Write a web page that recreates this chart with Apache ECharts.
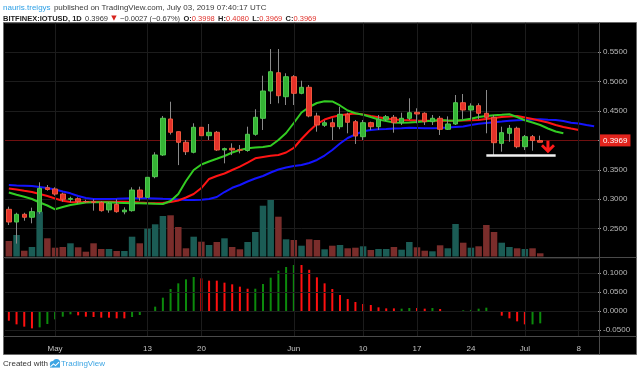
<!DOCTYPE html>
<html><head><meta charset="utf-8">
<script src="https://cdn.jsdelivr.net/npm/echarts@6/dist/echarts.min.js"></script>
<style>html,body{margin:0;padding:0;background:#fff}#c{width:640px;height:374px}</style>
</head><body><div id="c"></div><script>
// ---- categories (daily, 2019) ----
const categories = [
'04-25','04-26','04-27','04-28','04-29','04-30',
'05-01','05-02','05-03','05-04','05-05','05-06','05-07','05-08','05-09','05-10','05-11','05-12','05-13','05-14','05-15','05-16','05-17','05-18','05-19','05-20','05-21','05-22','05-23','05-24','05-25','05-26','05-27','05-28','05-29','05-30','05-31',
'06-01','06-02','06-03','06-04','06-05','06-06','06-07','06-08','06-09','06-10','06-11','06-12','06-13','06-14','06-15','06-16','06-17','06-18','06-19','06-20','06-21','06-22','06-23','06-24','06-25','06-26','06-27','06-28','06-29','06-30',
'07-01','07-02','07-03','07-04','07-05','07-06','07-07','07-08','07-09','07-10'];
const tickDates  = ['05-01','05-13','05-20','06-01','06-10','06-17','06-24','07-01','07-08'];
const tickLabels = ['May','13','20','Jun','10','17','24','Jul','8'];
const priceTicks = [0.25,0.30,0.35,0.40,0.45,0.50,0.55];
const oscTicks = [-0.05,0,0.05,0.1];

// ---- OHLC ----
const open  = [0.2828,0.2612,0.2743,0.2693,0.2788,0.3195,0.3173,0.3088,0.2998,0.3008,0.2960,0.2958,0.2945,0.2818,0.2913,0.2785,0.2805,0.3156,0.3032,0.3383,0.3752,0.4364,0.4148,0.3968,0.3798,0.4223,0.4080,0.4138,0.3837,0.3866,0.3840,0.3828,0.4104,0.4376,0.4840,0.5151,0.4743,0.5083,0.4801,0.4903,0.4415,0.4257,0.4300,0.4233,0.4444,0.4318,0.4063,0.4301,0.4233,0.4359,0.4393,0.4301,0.4376,0.4478,0.4461,0.4318,0.4376,0.4189,0.4279,0.4641,0.4517,0.4590,0.4461,0.4393,0.3950,0.4121,0.4206,0.3893,0.4063,0.3998];
const close = [0.2612,0.2743,0.2693,0.2788,0.3185,0.3165,0.3088,0.2998,0.3013,0.2958,0.2955,0.2945,0.2805,0.2930,0.2788,0.2815,0.3156,0.3032,0.3372,0.3752,0.4376,0.4138,0.3968,0.3808,0.4223,0.4080,0.4138,0.3837,0.3860,0.3837,0.3835,0.4104,0.4393,0.4840,0.5168,0.4760,0.5083,0.4801,0.4903,0.4415,0.4262,0.4300,0.4233,0.4444,0.4308,0.4075,0.4301,0.4233,0.4359,0.4403,0.4301,0.4376,0.4471,0.4449,0.4318,0.4376,0.4189,0.4279,0.4641,0.4517,0.4585,0.4461,0.4393,0.3961,0.4131,0.4206,0.3893,0.4063,0.3998,0.3969];
const low   = [0.2561,0.2245,0.2634,0.2590,0.2750,0.3145,0.3060,0.2958,0.2947,0.2930,0.2935,0.2805,0.2788,0.2770,0.2770,0.2743,0.2788,0.2975,0.2985,0.3356,0.3735,0.4100,0.3580,0.3752,0.3780,0.4036,0.4007,0.3820,0.3610,0.3750,0.3780,0.3808,0.4080,0.4177,0.4619,0.4631,0.4602,0.4602,0.4785,0.4393,0.4148,0.4230,0.4007,0.4190,0.4121,0.3939,0.4007,0.4176,0.4177,0.4330,0.4131,0.4262,0.4347,0.4291,0.4262,0.4262,0.4092,0.4177,0.4262,0.4359,0.4359,0.4359,0.4121,0.3747,0.3808,0.3978,0.3866,0.3837,0.3825,0.3969];
const high  = [0.2873,0.2770,0.2770,0.2856,0.3287,0.3241,0.3202,0.3110,0.3043,0.3032,0.2990,0.2998,0.2966,0.2952,0.2998,0.2861,0.3202,0.3213,0.3525,0.3798,0.4415,0.4658,0.4150,0.4007,0.4291,0.4279,0.4279,0.4160,0.3877,0.3950,0.3920,0.4233,0.4529,0.5100,0.5554,0.5554,0.5141,0.5110,0.5015,0.4942,0.4471,0.4339,0.4376,0.4573,0.4471,0.4347,0.4347,0.4318,0.4432,0.4432,0.4432,0.4471,0.4716,0.4546,0.4478,0.4432,0.4415,0.4409,0.4772,0.4789,0.4631,0.4631,0.4857,0.4432,0.4233,0.4262,0.4233,0.4092,0.4092,0.4080];
// ---- volume (relative) ----
const volume = [15.5,21.5,5.8,9.5,44.8,18.2,8.8,9.5,13.2,9.2,4.8,13.2,7.5,7.5,5.5,5.5,19.8,13.2,27.8,32.2,40.5,41.2,29.5,8.2,19.8,14.8,11.5,14.5,18.2,9.5,7.2,14.5,24.5,50.8,56.5,39.8,17.2,16.5,10.8,17.2,16.5,7.2,10.8,11.5,8.2,8.8,10.2,6.5,7.5,7.5,9.5,6.8,14.5,9.2,5.8,5.2,11.2,8.2,32.5,13.8,8.8,10.2,31.5,24.5,13.8,9.5,8.2,7.5,8.2,3.2];
// ---- alligator-style lines (shifted forward) ----
const lips  = [0.3114,0.3075,0.3043,0.3003,0.2944,0.2893,0.2828,0.2867,0.2901,0.2922,0.2942,0.2947,0.2947,0.2947,0.2939,0.2935,0.2930,0.2930,0.2927,0.2922,0.2918,0.2969,0.3088,0.3310,0.3497,0.3590,0.3641,0.3687,0.3735,0.3794,0.3837,0.3866,0.3878,0.3888,0.3908,0.4007,0.4126,0.4296,0.4474,0.4568,0.4636,0.4665,0.4662,0.4594,0.4509,0.4461,0.4437,0.4398,0.4355,0.4330,0.4304,0.4301,0.4304,0.4313,0.4325,0.4335,0.4347,0.4340,0.4335,0.4347,0.4367,0.4398,0.4415,0.4429,0.4435,0.4444,0.4398,0.4342,0.4304,0.4262,0.4202,0.4151,0.4121];
const teeth = [0.3182,0.3165,0.3143,0.3122,0.3088,0.3054,0.3012,0.2974,0.2952,0.2949,0.2952,0.2956,0.2957,0.2957,0.2957,0.2957,0.2954,0.2944,0.2935,0.2930,0.2935,0.2952,0.2978,0.3029,0.3088,0.3190,0.3344,0.3395,0.3437,0.3497,0.3553,0.3624,0.3696,0.3718,0.3738,0.3752,0.3794,0.3871,0.4024,0.4160,0.4279,0.4355,0.4398,0.4427,0.4444,0.4456,0.4440,0.4415,0.4393,0.4372,0.4355,0.4347,0.4342,0.4337,0.4335,0.4335,0.4335,0.4335,0.4335,0.4338,0.4342,0.4347,0.4364,0.4381,0.4398,0.4406,0.4415,0.4389,0.4364,0.4335,0.4304,0.4262,0.4228,0.4202,0.4177];
const jaw   = [0.3241,0.3235,0.3230,0.3224,0.3207,0.3190,0.3165,0.3131,0.3100,0.3054,0.3020,0.3003,0.3003,0.3003,0.3007,0.3012,0.3015,0.3015,0.3015,0.3012,0.3007,0.3003,0.2995,0.2986,0.2986,0.2992,0.3003,0.3037,0.3122,0.3194,0.3241,0.3301,0.3352,0.3395,0.3454,0.3505,0.3539,0.3565,0.3582,0.3616,0.3667,0.3743,0.3837,0.3947,0.4041,0.4100,0.4156,0.4177,0.4189,0.4194,0.4201,0.4206,0.4214,0.4211,0.4207,0.4206,0.4211,0.4219,0.4228,0.4236,0.4262,0.4282,0.4296,0.4308,0.4320,0.4333,0.4344,0.4347,0.4354,0.4359,0.4352,0.4347,0.4330,0.4301,0.4287,0.4262,0.4240];
// ---- oscillator histogram ----
const osc = [-0.0256,-0.0353,-0.0414,-0.0459,-0.0432,-0.0344,-0.0220,-0.0150,-0.0088,-0.0115,-0.0150,-0.0159,-0.0176,-0.0176,-0.0194,-0.0194,-0.0159,-0.0106,-0.0018,0.0115,0.0353,0.0582,0.0732,0.0838,0.0900,0.0864,0.0803,0.0803,0.0750,0.0706,0.0644,0.0590,0.0590,0.0714,0.0882,0.1067,0.1164,0.1217,0.1217,0.1090,0.0891,0.0732,0.0582,0.0423,0.0317,0.0238,0.0185,0.0159,0.0097,0.0070,0.0070,0.0062,0.0079,0.0079,0.0062,0.0079,0.0053,-0.0026,-0.0018,0.0018,0.0030,0.0062,0.0088,0.0000,-0.0123,-0.0194,-0.0273,-0.0353,-0.0353,-0.0326];
const oscDir = ['r','r','r','r','g','g','g','g','g','r','r','r','r','r','r','r','g','g','g','g','g','g','g','g','g','r','r','r','r','r','r','r','g','g','g','g','g','g','r','r','r','r','r','r','r','r','r','r','r','r','r','g','g','r','r','g','r','r','g','g','g','g','g','g','r','r','r','r','g','g'];
// ---- annotations ----
const lastPrice = 0.3969;
const supportLevel = 0.3747;
const supportFrom = 62, supportTo = 71;
const arrowAt = [70, 0.3888];

const GRID = '#1c1c1c';
const C_UP = '#35b435', C_DN = '#e4322a';
const V_UP = '#1b5c55', V_DN = '#7a2d2b';
const L = 5, R = 42;

const chart = echarts.init(document.getElementById('c'), null, {width:640, height:374});
const bodies = open.map((o,i)=>[o, close[i], Math.min(o,close[i]), Math.max(o,close[i])]);
const wicks = open.map((o,i)=>[o, close[i], low[i], high[i]]);
const volData = volume.map((v,i)=>({value:v, itemStyle:{color: close[i] >= open[i] ? V_UP : V_DN}}));
const oscData = osc.map((v,i)=>({value:v, itemStyle:{color: oscDir[i]==='g' ? '#0c8a0c' : '#ff1010'}}));
const isTick = (idx, val) => tickDates.indexOf(val) >= 0;
const f = '"Liberation Sans", Arial, sans-serif';

const xBase = {type:'category', data:categories, boundaryGap:true,
  axisLine:{show:false}, axisTick:{show:false}, axisLabel:{show:false}, splitLine:{show:false}};

chart.setOption({
  animation:false,
  backgroundColor:'#ffffff',
  graphic:[
    {type:'rect', z:-10, shape:{x:3.5,y:22.5,width:633,height:332}, style:{fill:'#000', stroke:'#6a6a6a', lineWidth:1}},
    {type:'line', z:100, shape:{x1:3.5,y1:257.5,x2:636.5,y2:257.5}, style:{stroke:'#4a4a4a', lineWidth:1}},
    {type:'line', z:100, shape:{x1:3.5,y1:336.5,x2:636.5,y2:336.5}, style:{stroke:'#4a4a4a', lineWidth:1}},
    {type:'line', z:100, shape:{x1:599.5,y1:22.5,x2:599.5,y2:354.5}, style:{stroke:'#4a4a4a', lineWidth:1}},
    {type:'text', left:3, top:1.5, style:{text:'{u|nauris.treigys} {n|published on TradingView.com, July 03, 2019 07:40:17 UTC}',
      rich:{u:{fill:'#2ea0e6', fontSize:8, fontFamily:f}, n:{fill:'#3a3a3a', fontSize:8, fontFamily:f}}}},
    {type:'text', left:3, top:12.5, style:{text:'{b|BITFINEX:IOTUSD, 1D} {n|0.3969} {t|▼} {n|−0.0027 (−0.67%)} {b|O:}{r|0.3998} {b|H:}{r|0.4080} {b|L:}{r|0.3969} {b|C:}{r|0.3969}',
      rich:{b:{fill:'#222', fontWeight:'bold', fontSize:7.5, fontFamily:f}, n:{fill:'#333', fontSize:7.5, fontFamily:f},
            t:{fill:'#d8241f', fontSize:7, fontFamily:'DejaVu Sans'}, r:{fill:'#e0302a', fontSize:7.5, fontFamily:f}}}},
    {type:'text', left:3, top:359.5, style:{text:'Created with', fill:'#333', fontSize:8, fontFamily:f}},
    {type:'group', left:48, top:359, children:[
      {type:'circle', shape:{cx:5,cy:6,r:3.2}, style:{fill:'#3da5e3'}},
      {type:'circle', shape:{cx:8.5,cy:4.5,r:3.6}, style:{fill:'#3da5e3'}},
      {type:'rect', shape:{x:2,y:6,width:10,height:3.5}, style:{fill:'#3da5e3'}},
      {type:'polyline', shape:{points:[[2.5,8.5],[5.5,5.8],[7.5,7.5],[11,4]]}, style:{stroke:'#fff', lineWidth:1.1, fill:null}}
    ]},
    {type:'text', left:61, top:359.5, style:{text:'TradingView', fill:'#3da5e3', fontSize:8, fontFamily:f}}
  ],
  grid:[
    {left:L, right:R, top:22.8, height:235.2, outerBoundsMode:'none'},
    {left:L, right:R, top:22.8, height:233.7, outerBoundsMode:'none'},
    {left:L, right:R, top:259, height:77, outerBoundsMode:'none'}
  ],
  xAxis:[
    Object.assign({gridIndex:0}, xBase),
    Object.assign({gridIndex:1}, xBase),
    Object.assign({}, xBase, {gridIndex:2,
      axisLabel:{show:true, interval:isTick, formatter:(v)=>tickLabels[tickDates.indexOf(v)], color:'#c4c4c4', fontSize:8, fontFamily:f, margin:9},
      axisTick:{show:true, interval:isTick, alignWithLabel:true, length:3, lineStyle:{color:'#555'}}})
  ],
  yAxis:[
    {gridIndex:0, type:'value', position:'right', min:0.2, max:0.6, interval:0.05,
      axisLine:{show:false}, axisTick:{show:true, length:3, lineStyle:{color:'#999'}},
      axisLabel:{showMinLabel:false, showMaxLabel:false, color:'#b8b8b8', fontSize:8, fontFamily:f, margin:5,
        formatter:(v)=> priceTicks.some(t=>Math.abs(t-v)<1e-6) ? v.toFixed(4) : ''},
      splitLine:{show:true, lineStyle:{color:GRID, width:1}}},
    {gridIndex:1, type:'value', min:0, max:233.7, show:false},
    {gridIndex:2, type:'value', position:'right', min:-0.0661, max:0.1376,
      axisLine:{show:false},
      axisTick:{show:true, length:3, customValues:oscTicks, lineStyle:{color:'#999'}},
      axisLabel:{customValues:oscTicks, color:'#b8b8b8', fontSize:8, fontFamily:f, margin:5, formatter:(v)=>v.toFixed(4)},
      splitLine:{show:false}}
  ],
  series:[
    {name:'volume', type:'bar', xAxisIndex:1, yAxisIndex:1, data:volData, barWidth:6.5, z:1,
      markLine:{silent:true, symbol:'none', label:{show:false}, lineStyle:{color:GRID, width:1, type:'solid'},
        data: tickDates.map(d=>({xAxis:d}))}},
    {name:'oscGrid', type:'line', xAxisIndex:2, yAxisIndex:2, data:[], z:0,
      markLine:{silent:true, symbol:'none', label:{show:false}, lineStyle:{color:GRID, width:1, type:'solid'},
        data: tickDates.map(d=>({xAxis:d})).concat(oscTicks.map(v=>({yAxis:v})))}},
    {name:'osc', type:'bar', xAxisIndex:2, yAxisIndex:2, data:oscData, barWidth:2, z:2},
    {name:'jaw', type:'line', xAxisIndex:0, yAxisIndex:0, data:jaw, showSymbol:false, z:3, lineStyle:{color:'#1414ff', width:2}},
    {name:'teeth', type:'line', xAxisIndex:0, yAxisIndex:0, data:teeth, showSymbol:false, z:3, lineStyle:{color:'#ff1414', width:2}},
    {name:'lips', type:'line', xAxisIndex:0, yAxisIndex:0, data:lips, showSymbol:false, z:3, lineStyle:{color:'#33cc22', width:2}},
    {name:'wick', type:'candlestick', xAxisIndex:0, yAxisIndex:0, data:wicks, barWidth:1, z:4,
      itemStyle:{color:'#8a8a8a', color0:'#8a8a8a', borderColor:'#8a8a8a', borderColor0:'#8a8a8a', borderWidth:1},
      markLine:{silent:true, symbol:'none', z:2,
        data:[{yAxis:lastPrice, lineStyle:{color:'#701010', width:1, type:'solid'},
               label:{show:true, position:'end', distance:2, formatter:lastPrice.toFixed(4), color:'#fff', backgroundColor:'#e3241d',
                      padding:[2,3,2,3], fontSize:8, fontFamily:f}}]}},
    {name:'body', type:'candlestick', xAxisIndex:0, yAxisIndex:0, data:bodies, barWidth:5, z:5,
      itemStyle:{color:C_UP, color0:C_DN, borderColor:'#4fc84f', borderColor0:'#f0563c', borderWidth:1},
      markLine:{silent:true, symbol:'none', label:{show:false},
        data:[[{coord:[supportFrom, supportLevel]},{coord:[supportTo, supportLevel]}]],
        lineStyle:{color:'#f2f2f2', width:2.5, type:'solid'}},
      markPoint:{silent:true, data:[{coord:arrowAt}],
        symbol:'path://M5.5,0H8.5V9H5.5Z M0,5.5 L2,3.5 L7,8.5 L12,3.5 L14,5.5 L7,12.5 Z',
        symbolSize:[14,14], symbolKeepAspect:true, itemStyle:{color:'#ff1a1a'}, label:{show:false}}}
  ]
});
</script></body></html>
